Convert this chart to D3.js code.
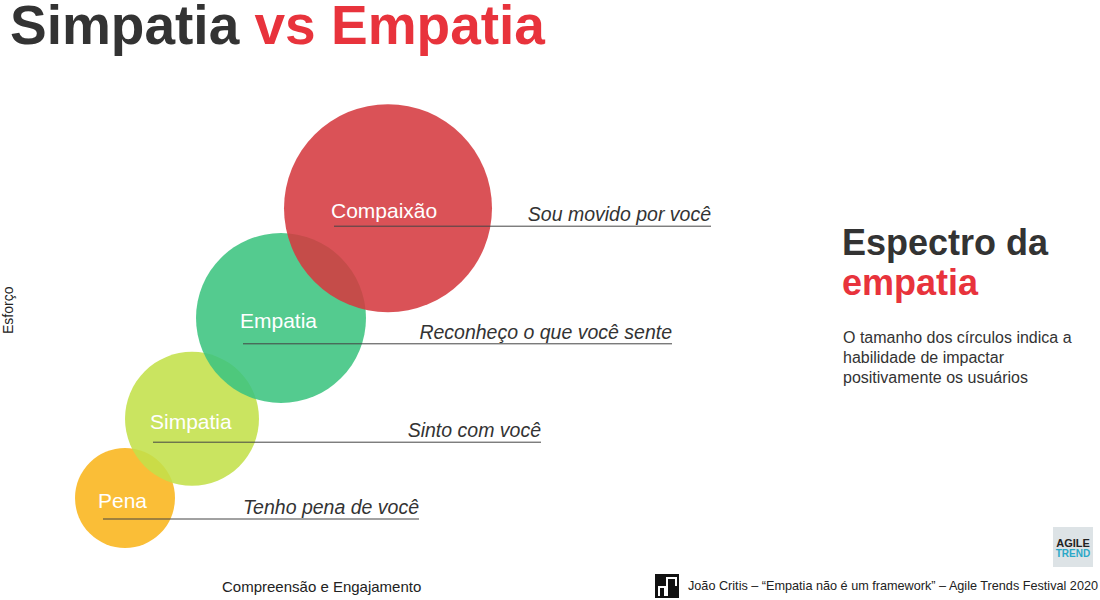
<!DOCTYPE html>
<html lang="pt">
<head>
<meta charset="UTF-8" />
<title>Simpatia vs Empatia</title>
<script src="https://d3js.org/d3.v7.min.js"></script>
<style>
  body { margin: 0; background: #fff; font-family: "Liberation Sans", Arial, sans-serif; }
</style>
</head>
<body>
<svg id="chart" width="1100" height="600"></svg>
<script>
const labels = ["Pena", "Simpatia", "Empatia", "Compaixão"];
const phrases = ["Tenho pena de você", "Sinto com você", "Reconheço o que você sente", "Sou movido por você"];
const compreensao = [12.5, 19.2, 28.1, 38.8];   // x
const esforco = [17.0, 30.2, 47.0, 65.3];       // y
const impacto = [50, 67, 85, 104];               // circle radius
const lineStart = [10.3, 15.3, 24.3, 33.4];
const lineEnd = [41.9, 54.1, 67.2, 71.1];
const lineLevel = [13.5, 26.3, 42.7, 62.3];
const colors = ["#f9b51b", "#c3e04a", "#3cc47f", "#d53a40"];

const svg = d3.select("#chart");
const x = d3.scaleLinear().domain([0, 100]).range([0, 1000]);
const y = d3.scaleLinear().domain([0, 100]).range([600, 0]);
const r = d3.scaleLinear().domain([0, 100]).range([0, 100]);

const data = labels.map((l, i) => ({ label: l, phrase: phrases[i], cx: compreensao[i], cy: esforco[i], r: impacto[i],
  start: lineStart[i], end: lineEnd[i], level: lineLevel[i], color: colors[i] }));

// title
const t = svg.append("text").attr("x", 10).attr("y", 44)
  .attr("font-size", 55).attr("font-weight", "bold");
t.append("tspan").attr("fill", "#333").text("Simpatia ");
t.append("tspan").attr("fill", "#e8333c").text("vs Empatia");

// circles
svg.selectAll("circle").data(data).enter().append("circle")
  .attr("cx", d => x(d.cx)).attr("cy", d => y(d.cy)).attr("r", d => r(d.r))
  .attr("fill", d => d.color).attr("fill-opacity", 0.88);

// lines and labels
const g = svg.selectAll("g.item").data(data).enter().append("g");
g.append("line")
  .attr("x1", d => x(d.start)).attr("x2", d => x(d.end))
  .attr("y1", d => y(d.level)).attr("y2", d => y(d.level))
  .attr("stroke", "#444").attr("stroke-width", 1);
g.append("text")
  .attr("x", (d, i) => x(d.start) - (i === 0 ? 5 : 3))
  .attr("y", d => y(d.cy) + 10)
  .attr("fill", "#fff").attr("font-size", 21).text(d => d.label);
g.append("text")
  .attr("x", d => x(d.end)).attr("y", d => y(d.level) - 5)
  .attr("text-anchor", "end").attr("fill", "#333").attr("font-size", 19.5).attr("font-style", "italic")
  .text(d => d.phrase);

// axis titles
svg.append("text").attr("x", 222).attr("y", 592).attr("font-size", 15).attr("fill", "#222").text("Compreensão e Engajamento");
svg.append("text").attr("transform", "translate(13,334) rotate(-90)").attr("font-size", 14).attr("fill", "#222").text("Esforço");

// side text
svg.append("text").attr("x", 842).attr("y", 255).attr("font-size", 36).attr("font-weight", "bold").attr("fill", "#333").text("Espectro da");
svg.append("text").attr("x", 842).attr("y", 295).attr("font-size", 36).attr("font-weight", "bold").attr("fill", "#e8333c").text("empatia");
["O tamanho dos círculos indica a", "habilidade de impactar", "positivamente os usuários"].forEach((s, i) =>
  svg.append("text").attr("x", 843).attr("y", 343 + i * 20).attr("font-size", 16).attr("fill", "#333").text(s));

// footer
svg.append("rect").attr("x", 655).attr("y", 574).attr("width", 24).attr("height", 24).attr("fill", "#111");
svg.append("path").attr("d", "M659,596 V587 H665 V596 M667,596 V578 H676 V586").attr("fill", "none").attr("stroke", "#fff").attr("stroke-width", 2);
svg.append("text").attr("x", 688).attr("y", 590).attr("font-size", 13).attr("fill", "#222")
  .attr("textLength", 410).attr("lengthAdjust", "spacingAndGlyphs")
  .text("João Critis – “Empatia não é um framework” – Agile Trends Festival 2020");
svg.append("rect").attr("x", 1053).attr("y", 527).attr("width", 40).attr("height", 40).attr("fill", "#dde3e6");
svg.append("text").attr("x", 1073).attr("y", 547).attr("text-anchor", "middle").attr("font-size", 11).attr("font-weight", "bold").attr("fill", "#222").text("AGILE");
svg.append("text").attr("x", 1073).attr("y", 557).attr("text-anchor", "middle").attr("font-size", 10).attr("font-weight", "bold").attr("fill", "#2aa8c8").text("TREND");
</script>
</body>
</html>
